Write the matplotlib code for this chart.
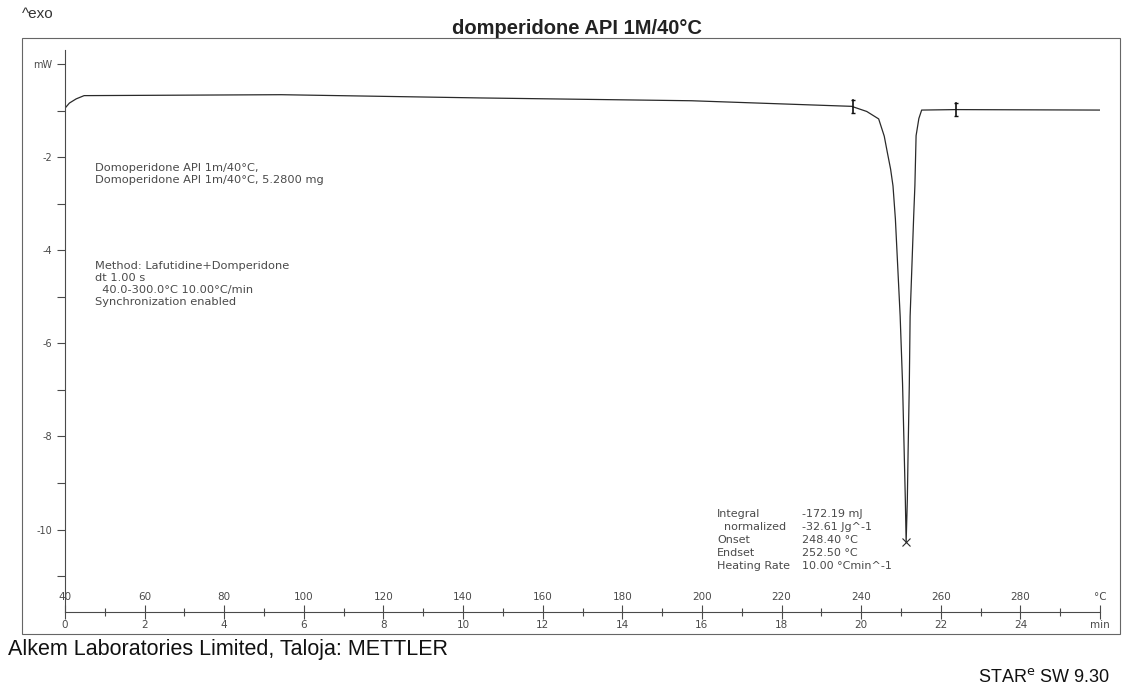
import matplotlib.pyplot as plt
import numpy as np
from matplotlib.patches import Rectangle

# DSC curve of domperidone API (temperature in °C, heat flow in mW)
temp = [40.0, 41.1, 42.8, 44.8, 94.3, 144.6, 197.4, 237.6, 241.4, 244.4,
        245.8, 246.6, 247.4, 248.0, 248.6, 249.8, 250.4, 250.8, 251.1, 251.3,
        251.6, 251.8, 252.1, 252.3, 253.2, 253.5, 253.8, 254.5, 255.2, 263.8,
        300.0]
heat_flow = [-0.95, -0.84, -0.75, -0.68, -0.66, -0.73, -0.79, -0.91, -1.02, -1.18,
             -1.55, -1.91, -2.26, -2.62, -3.33, -5.42, -6.87, -8.29, -9.37, -10.27,
             -9.36, -8.29, -6.87, -5.42, -3.26, -2.61, -1.54, -1.17, -0.99, -0.98,
             -0.99]

peak_T = 251.3
peak_mW = -10.27
limits_T = [238.0, 263.8]

temp_ticks = list(range(40, 301, 20))
temp_labels = [str(t) for t in temp_ticks[:-1]] + ["°C"]
time_labels = [str(m) for m in range(0, 25, 2)] + ["min"]
hf_ticks = [-10, -8, -6, -4, -2, 0]
hf_labels = ["-10", "-8", "-6", "-4", "-2", "mW"]

sample_txt = ["Domoperidone API 1m/40°C,",
              "Domoperidone API 1m/40°C, 5.2800 mg"]
method_txt = ["Method: Lafutidine+Domperidone",
              "dt 1.00 s",
              "  40.0-300.0°C 10.00°C/min",
              "Synchronization enabled"]
result_names = ["Integral", "  normalized", "Onset", "Endset", "Heating Rate"]
result_vals = ["-172.19 mJ", "-32.61 Jg^-1", "248.40 °C", "252.50 °C", "10.00 °Cmin^-1"]

W, H = 1131, 689
grey = "#4a4a4a"


def px(x, y):
    return x / W, 1 - y / H


fig = plt.figure(figsize=(W / 100, H / 100), dpi=100)
ax = fig.add_axes([65 / W, 1 - 612 / H, (1100 - 65) / W, (612 - 50) / H])

ax.plot(temp, heat_flow, color="#2a2a2a", lw=0.9)
ax.plot(peak_T, peak_mW, marker="x", color="#2a2a2a", ms=6, mew=0.8)

# integration limit brackets
for t in limits_T:
    y0 = np.interp(t, temp, heat_flow)
    ax.plot([t, t], [y0 - 0.14, y0 + 0.14], color="#111", lw=1.2)
    ax.plot([t, t], [y0 - 0.14, y0 + 0.14], ls="none", marker="_", color="#111", ms=3)

ax.set_xlim(40, 300)
ax.set_ylim(-11.77, 0.3)

for s in ["top", "right"]:
    ax.spines[s].set_visible(False)
for s in ["left", "bottom"]:
    ax.spines[s].set_color(grey)
    ax.spines[s].set_linewidth(0.8)

ax.set_xticks(temp_ticks)
ax.set_xticklabels(time_labels)
ax.set_xticks(list(range(50, 300, 20)), minor=True)
ax.tick_params(axis="x", which="major", direction="inout", length=10, width=0.8,
               colors=grey, labelsize=7.5, pad=1)
ax.tick_params(axis="x", which="minor", direction="inout", length=6, width=0.8, colors=grey)
for t, lab in zip(temp_ticks, temp_labels):
    ax.text(t, 0.018, lab, transform=ax.get_xaxis_transform(), ha="center", va="bottom",
            fontsize=7.5, color=grey)

ax.set_yticks(hf_ticks)
ax.set_yticklabels(hf_labels)
ax.set_yticks([-11, -9, -7, -5, -3, -1], minor=True)
ax.tick_params(axis="y", which="major", direction="out", length=6, width=0.8,
               colors=grey, labelsize=7)
ax.tick_params(axis="y", which="minor", direction="out", length=6, width=0.8, colors=grey)

# info blocks
for i, s in enumerate(sample_txt):
    fig.text(*px(95, 168 + 12 * i), s, fontsize=8.2, color=grey, va="center")
for i, s in enumerate(method_txt):
    fig.text(*px(95, 266 + 12 * i), s, fontsize=8.2, color=grey, va="center")
for i, (n, v) in enumerate(zip(result_names, result_vals)):
    fig.text(*px(717, 514 + 13 * i), n, fontsize=8, color=grey, va="center")
    fig.text(*px(802, 514 + 13 * i), v, fontsize=8, color=grey, va="center")

# page furniture
fig.add_artist(Rectangle(px(22, 634), (1120 - 22) / W, (634 - 38) / H, fill=False,
                         lw=0.8, ec="#666", transform=fig.transFigure))
fig.text(*px(577, 29), "domperidone API 1M/40°C", ha="center", va="center",
         fontsize=14.5, fontweight="bold", family="Liberation Sans", color="#222")
fig.text(*px(22, 14), "^exo", ha="left", va="center", fontsize=11,
         family="Liberation Sans", color="#333")
fig.text(*px(8, 650), "Alkem Laboratories Limited, Taloja: METTLER", ha="left", va="center",
         fontsize=15.5, family=["Liberation Sans Narrow", "Liberation Sans"], color="#111")
fig.text(*px(1110, 677), "STAR$^{\\mathrm{e}}$ SW 9.30", ha="right", va="center",
         fontsize=13, family="Liberation Sans", color="#111")

fig.savefig("out.png", dpi=100)
